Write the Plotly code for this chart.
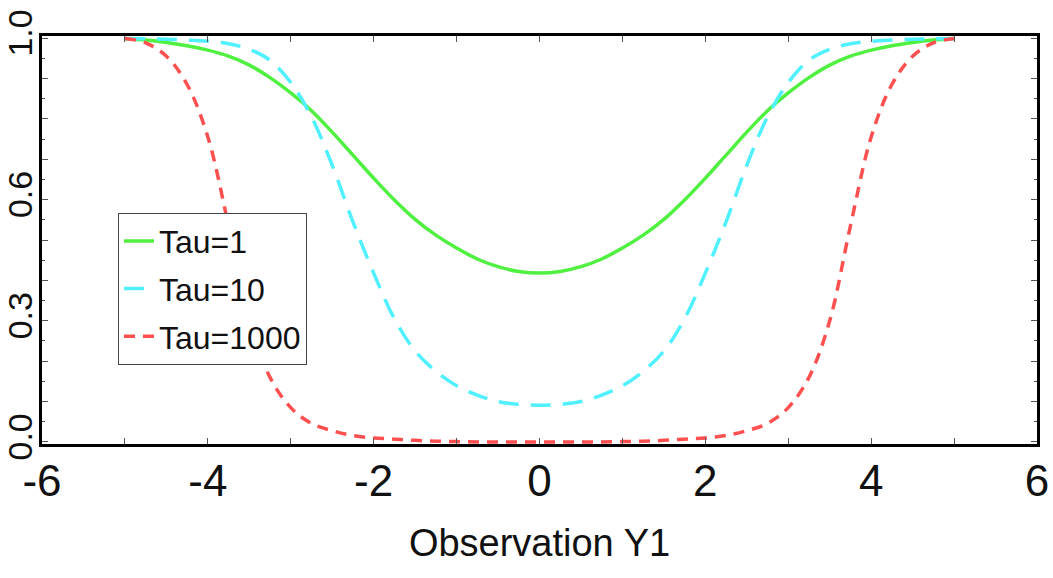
import plotly.graph_objects as go

# x positions (observation Y1)
x_vals = [-5.0, -4.75, -4.5, -4.25, -4.0, -3.75, -3.5, -3.25, -3.0, -2.75, -2.5, -2.25, -2.0,
          -1.75, -1.5, -1.25, -1.0, -0.75, -0.5, -0.25, 0.0, 0.25, 0.5, 0.75, 1.0, 1.25, 1.5,
          1.75, 2.0, 2.25, 2.5, 2.75, 3.0, 3.25, 3.5, 3.75, 4.0, 4.25, 4.5, 4.75, 5.0]

tau1 = [0.999, 0.995, 0.989, 0.981, 0.970, 0.955, 0.933, 0.902, 0.864, 0.820, 0.767, 0.710, 0.653,
        0.599, 0.551, 0.512, 0.480, 0.453, 0.434, 0.422, 0.418, 0.422, 0.434, 0.453, 0.480, 0.512, 0.551,
        0.599, 0.653, 0.710, 0.767, 0.820, 0.864, 0.902, 0.933, 0.955, 0.970, 0.981, 0.989, 0.995, 0.999]

tau10 = [0.999, 0.998, 0.997, 0.995, 0.992, 0.986, 0.972, 0.945, 0.890, 0.805, 0.685, 0.545, 0.418,
         0.305, 0.225, 0.175, 0.139, 0.116, 0.100, 0.093, 0.091, 0.093, 0.100, 0.116, 0.139, 0.175, 0.225,
         0.305, 0.418, 0.545, 0.685, 0.805, 0.890, 0.945, 0.972, 0.986, 0.992, 0.995, 0.997, 0.998, 0.999]

tau1000 = [0.999, 0.988, 0.955, 0.885, 0.755, 0.535, 0.300, 0.160, 0.085, 0.046, 0.028, 0.016, 0.010,
           0.007, 0.004, 0.002, 0.001, 0.000, 0.000, 0.000, 0.000, 0.000, 0.000, 0.000, 0.001, 0.002, 0.004,
           0.007, 0.010, 0.016, 0.028, 0.046, 0.085, 0.160, 0.300, 0.535, 0.755, 0.885, 0.955, 0.988, 0.999]

series_names = ["Tau=1", "Tau=10", "Tau=1000"]
x_tick_vals = [-6, -5, -4, -3, -2, -1, 0, 1, 2, 3, 4, 5, 6]
x_tick_text = ["-6", "", "-4", "", "-2", "", "0", "", "2", "", "4", "", "6"]
y_tick_vals = [round(i * 0.1, 1) for i in range(11)]
y_tick_text = ["0.0", "", "", "0.3", "", "", "0.6", "", "", "", "1.0"]

FONT = "Liberation Sans, Arial, sans-serif"

fig = go.Figure()
fig.add_trace(go.Scatter(x=x_vals, y=tau1, mode="lines", name=series_names[0], legendgroup="a",
                         line=dict(color="#50F040", width=3.5, shape="spline")))
fig.add_trace(go.Scatter(x=x_vals, y=tau10, mode="lines", name=series_names[1], legendgroup="b",
                         line=dict(color="#50F0FF", width=3.5, dash="20px,12px", shape="spline")))
fig.add_trace(go.Scatter(x=x_vals, y=tau1000, mode="lines", name=series_names[2], legendgroup="c",
                         line=dict(color="#FF5050", width=3.5, dash="11px,8px", shape="spline")))

fig.update_layout(
    width=1053, height=578,
    margin=dict(l=42, r=16, t=36, b=134),
    paper_bgcolor="white", plot_bgcolor="white",
    showlegend=True,
    legend=dict(x=0.0764, y=0.567, xanchor="left", yanchor="top",
                bgcolor="white", bordercolor="#444", borderwidth=1,
                font=dict(family=FONT, size=32, color="#111"),
                tracegroupgap=3, itemwidth=30),
    xaxis=dict(range=[-6, 6], tickvals=x_tick_vals, ticktext=x_tick_text,
               automargin=False,
               ticks="inside", ticklen=6, tickwidth=1, tickcolor="#555",
               showline=True, linewidth=3, linecolor="black", mirror="ticks",
               showgrid=False, zeroline=False, ticklabelstandoff=-4,
               tickfont=dict(family=FONT, size=44, color="#111"),
               title=dict(text="Observation Y1", font=dict(family=FONT, size=38, color="#111"),
                          standoff=26)),
    yaxis=dict(range=[-0.005, 1.005], tickvals=y_tick_vals, ticktext=y_tick_text,
               automargin=False,
               ticks="inside", ticklen=6, tickwidth=1, tickcolor="#555",
               minor=dict(dtick=0.05, ticks="inside", ticklen=3, tickcolor="#555", tickwidth=1),
               showline=True, linewidth=3, linecolor="black", mirror="ticks",
               showgrid=False, zeroline=False, tickangle=-90, ticklabelstandoff=-7,
               tickfont=dict(family=FONT, size=34, color="#111")),
)

fig.write_html("out.html", config={"displayModeBar": False},
               post_script="document.body.style.margin='0';document.body.style.overflow='hidden';")
